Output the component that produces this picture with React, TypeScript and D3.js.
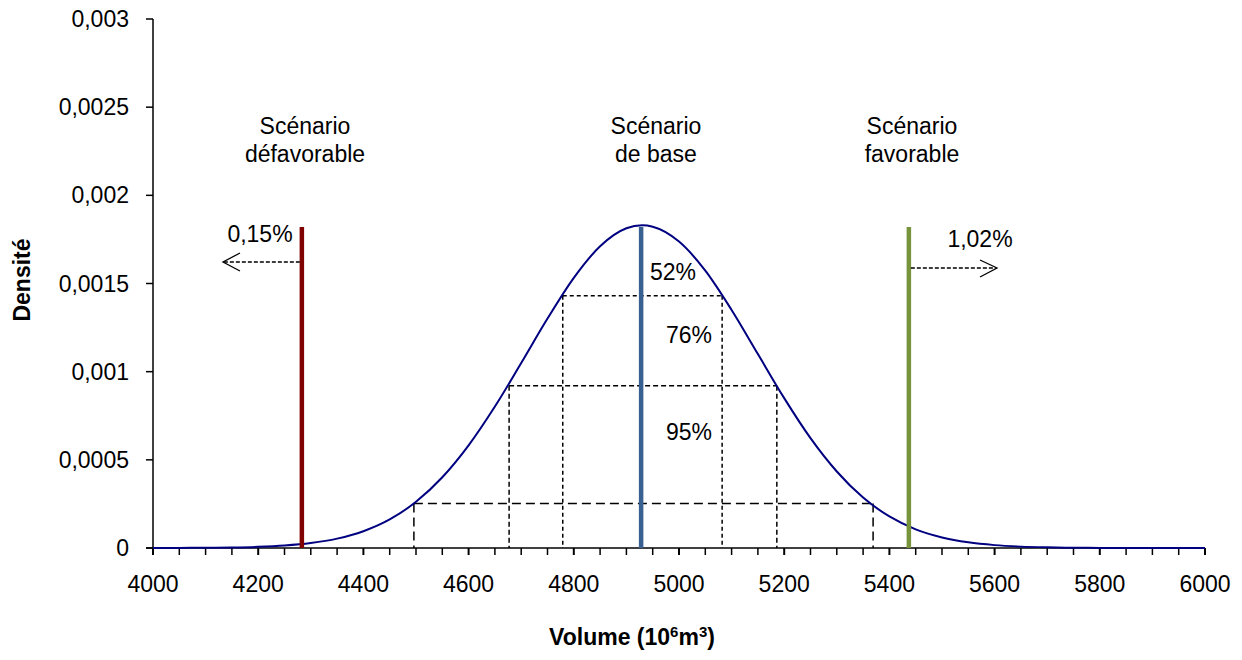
import React from "react";
import * as d3 from "d3";

const volumes = [4000, 4050, 4100, 4150, 4200, 4250, 4300, 4350, 4400, 4450, 4500, 4550, 4600, 4650, 4700, 4750, 4800, 4850, 4900, 4930, 4950, 5000, 5050, 5100, 5150, 5200, 5250, 5300, 5350, 5400, 5450, 5500, 5550, 5600, 5650, 5700, 5750, 5800, 5850, 5900, 5950, 6000];
const densities = [0.0000002, 0.0000005, 0.0000013, 0.000003, 0.0000067, 0.0000141, 0.0000281, 0.0000531, 0.0000953, 0.000162, 0.000262, 0.000401, 0.000582, 0.000802, 0.001049, 0.001301, 0.001532, 0.001711, 0.001813, 0.00183, 0.001822, 0.001738, 0.001573, 0.00135, 0.0011, 0.00085, 0.000623, 0.000434, 0.000286, 0.000179, 0.000106, 0.00006, 0.0000321, 0.0000163, 0.0000078, 0.0000036, 0.0000015, 0.0000006, 0.0000002, 0.0000001, 0, 0];

const yTicks = [0, 0.0005, 0.001, 0.0015, 0.002, 0.0025, 0.003];
const yTickLabels = ["0", "0,0005", "0,001", "0,0015", "0,002", "0,0025", "0,003"];
const xTicks = [4000, 4200, 4400, 4600, 4800, 5000, 5200, 5400, 5600, 5800, 6000];

// Scenario lines
const scenarioVolumes = [4283, 4928, 5437];
const scenarioTop = 0.00182;
const scenarioNames = [["Scénario", "défavorable"], ["Scénario", "de base"], ["Scénario", "favorable"]];
const scenarioLabelX = [305, 656, 912];
const scenarioColors = ["#800000", "#386192", "#77933C"];

// Confidence intervals
const intervalLow = [4779, 4677, 4496];
const intervalHigh = [5082, 5186, 5369];
const intervalLevel = [0.00143, 0.00092, 0.000252];
const intervalLabels = ["52%", "76%", "95%"];
const tailLabels = ["0,15%", "1,02%"];

export default function App() {
  const x = d3.scaleLinear().domain([4000, 6000]).range([153, 1205]);
  const y = d3.scaleLinear().domain([0, 0.003]).range([548, 19]);
  const line = d3
    .line<number>()
    .x((_, i) => x(volumes[i]))
    .y((d) => y(d))
    .curve(d3.curveMonotoneX);
  const minorTicks = d3.range(4000, 6001, 50);
  const font = "Liberation Sans, Arial, sans-serif";
  const dashes = ["4,3", "5,3", "9,5"];
  const fs = 23;

  return (
    <svg
      width={1242}
      height={660}
      style={{ position: "absolute", left: 0, top: 0, background: "#fff" }}
      fontFamily={font}
    >
      <rect width={1242} height={660} fill="#fff" />
      {/* Y axis */}
      <line x1={x(4000)} x2={x(4000)} y1={y(0.003)} y2={y(0)} stroke="#000" strokeWidth={1.5} />
      {yTicks.map((t, i) => (
        <g key={"yt" + i}>
          <line x1={x(4000) - 7} x2={x(4000)} y1={y(t)} y2={y(t)} stroke="#000" strokeWidth={1.5} />
          <text x={129} y={y(t) + 8} textAnchor="end" fontSize={fs}>
            {yTickLabels[i]}
          </text>
        </g>
      ))}
      {/* X axis */}
      <line x1={x(4000) - 7} x2={x(6000)} y1={y(0)} y2={y(0)} stroke="#000" strokeWidth={1.5} />
      {minorTicks.map((t) => (
        <line
          key={"xm" + t}
          x1={x(t)}
          x2={x(t)}
          y1={y(0)}
          y2={y(0) + 7}
          stroke="#000"
          strokeWidth={t % 200 === 0 ? 2 : 1.5}
        />
      ))}
      {xTicks.map((t) => (
        <text key={"xt" + t} x={x(t)} y={592} textAnchor="middle" fontSize={fs}>
          {t}
        </text>
      ))}
      {/* Axis titles */}
      <text x={632} y={645} textAnchor="middle" fontSize={fs} fontWeight="bold">
        Volume (10<tspan dy={-8} fontSize={15}>6</tspan>
        <tspan dy={8}>m</tspan>
        <tspan dy={-8} fontSize={15}>3</tspan>
        <tspan dy={8}>)</tspan>
      </text>
      <text
        transform={`translate(30,${280}) rotate(-90)`}
        textAnchor="middle"
        fontSize={fs}
        fontWeight="bold"
      >
        Densité
      </text>

      {/* Interval dashed lines */}
      {intervalLevel.map((lv, i) => (
        <g key={"iv" + i} stroke="#000" strokeWidth={1.5} strokeDasharray={dashes[i]} fill="none">
          <line x1={x(intervalLow[i])} x2={x(intervalHigh[i])} y1={y(lv)} y2={y(lv)} />
          <line x1={x(intervalLow[i])} x2={x(intervalLow[i])} y1={y(lv)} y2={y(0)} />
          <line x1={x(intervalHigh[i])} x2={x(intervalHigh[i])} y1={y(lv)} y2={y(0)} />
        </g>
      ))}

      {/* Density curve */}
      <path d={line(densities) || ""} fill="none" stroke="#000080" strokeWidth={2} />

      {/* Scenario lines */}
      {scenarioVolumes.map((v, i) => (
        <line
          key={"sc" + i}
          x1={x(v)}
          x2={x(v)}
          y1={y(scenarioTop)}
          y2={y(0)}
          stroke={scenarioColors[i]}
          strokeWidth={4.5}
        />
      ))}

      {/* Scenario labels */}
      {scenarioNames.map((lines, i) => (
        <text key={"sn" + i} y={134} textAnchor="middle" fontSize={fs}>
          <tspan x={scenarioLabelX[i]} dy={0}>
            {lines[0]}
          </tspan>
          <tspan x={scenarioLabelX[i]} dy={28}>
            {lines[1]}
          </tspan>
        </text>
      ))}

      {/* Interval labels */}
      {intervalLabels.map((l, i) => (
        <text key={"il" + i} x={[673, 689, 689][i]} y={[280, 343, 440][i]} textAnchor="middle" fontSize={fs}>
          {l}
        </text>
      ))}

      {/* Tail arrows */}
      <g stroke="#000" strokeWidth={1.3} fill="none">
        <line x1={x(scenarioVolumes[0]) - 2} x2={224} y1={262} y2={262} strokeDasharray="4,2" />
        <polyline points="240,253 223,262 240,271" />
        <line x1={x(scenarioVolumes[2]) + 2} x2={996} y1={268} y2={268} strokeDasharray="4,2" />
        <polyline points="980,260 997,268 980,277" />
      </g>
      <text x={260} y={242} textAnchor="middle" fontSize={fs}>
        {tailLabels[0]}
      </text>
      <text x={980} y={247} textAnchor="middle" fontSize={fs}>
        {tailLabels[1]}
      </text>
    </svg>
  );
}
